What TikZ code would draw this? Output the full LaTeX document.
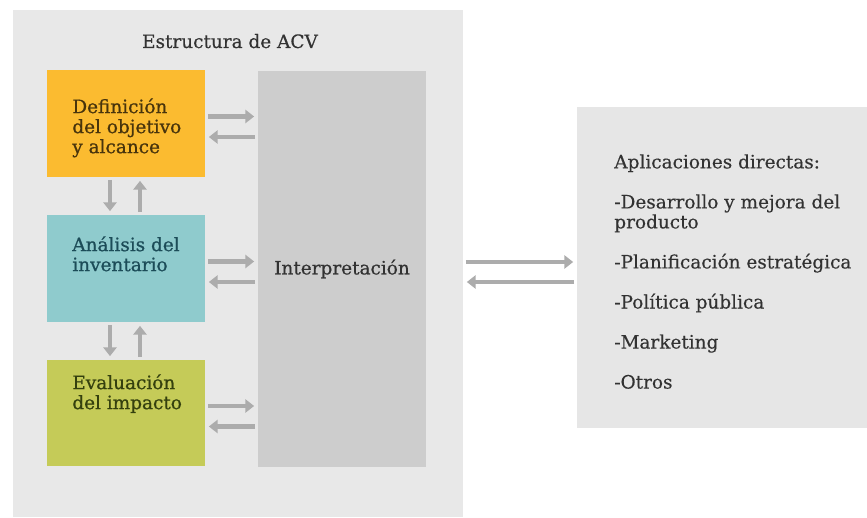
\documentclass[tikz,border=0pt]{standalone}
\usepackage{fontspec}
\setmainfont{DejaVu Serif}
\usetikzlibrary{arrows.meta,positioning,calc}
\definecolor{acvpanel}{RGB}{232,232,232}
\definecolor{acvyellow}{RGB}{251,187,48}
\definecolor{acvteal}{RGB}{143,203,205}
\definecolor{acvgreen}{RGB}{197,203,88}
\definecolor{acvinterp}{RGB}{205,205,205}
\definecolor{acvapps}{RGB}{230,230,230}
\definecolor{acvarrow}{RGB}{172,172,172}
\definecolor{acvtext}{RGB}{50,50,50}

\begin{document}
\begin{tikzpicture}[
    phase/.style={rectangle, inner sep=0pt, minimum width=3.16cm, minimum height=2.14cm},
    phasetxt/.style={anchor=north west, inner sep=0pt, align=left, font=\fontsize{10.5pt}{11.4pt}\selectfont\addfontfeature{FakeBold=0.8}},
    appstxt/.style={anchor=north west, inner sep=0pt, align=left, font=\fontsize{10.5pt}{11.4pt}\selectfont\addfontfeature{FakeBold=0.3}},
    arr/.style={draw=acvarrow, line width=2.4pt, -{Triangle[length=5pt,width=7.5pt]}, shorten <=1.5pt, shorten >=2pt},
]
    \useasboundingbox (0,0) rectangle (17.34,10.36);
    \fill[white] (0,0) rectangle (17.34,10.36);

    % ACV frame
    \node[rectangle, fill=acvpanel, inner sep=0pt, minimum width=9.0cm, minimum height=10.14cm] (acv) at (4.76,5.09) {};
    \node[anchor=base, text=acvtext, font=\fontsize{10.5pt}{11.4pt}\selectfont\addfontfeature{FakeBold=0.4}] (title) at (4.6,9.4) {Estructura de ACV};

    % phases
    \node[phase, fill=acvyellow] (def) at (2.52,7.89) {};
    \node[phase, fill=acvteal] (inv) at (2.52,4.99) {};
    \node[phase, fill=acvgreen, minimum height=2.12cm] (eval) at (2.52,2.10) {};
    \node[phasetxt, text={rgb,255:red,72;green,52;blue,12}] (deftxt) at (1.44,8.40) {Definición\\del objetivo\\y alcance};
    \node[phasetxt, text={rgb,255:red,28;green,76;blue,88}] (invtxt) at (1.44,5.64) {Análisis del\\inventario};
    \node[phasetxt, text={rgb,255:red,52;green,64;blue,14}] (evaltxt) at (1.44,2.88) {Evaluación\\del impacto};

    % interpretation
    \node[rectangle, fill=acvinterp, inner sep=0pt, minimum width=3.36cm, minimum height=7.92cm,
          text=acvtext, font=\fontsize{10.5pt}{11.4pt}\selectfont\addfontfeature{FakeBold=0.6}] (interp) at (6.84,4.98) {Interpretación};

    % applications
    \node[rectangle, fill=acvapps, inner sep=0pt, minimum width=5.8cm, minimum height=6.42cm] (apps) at (14.44,5.01) {};
    \node[appstxt, text=acvtext] (appslist) at (12.28,7.28) {Aplicaciones directas:\\[0.4cm]
        -Desarrollo y mejora del\\producto\\[0.4cm]
        -Planificación estratégica\\[0.4cm]
        -Política pública\\[0.4cm]
        -Marketing\\[0.4cm]
        -Otros};

    % phase <-> interpretation
    \foreach \ph in {def,inv,eval} {
        \draw[arr] ([yshift=0.14cm]\ph.east) -- ([yshift=0.14cm]\ph.east -| interp.west);
        \draw[arr] ([yshift=-0.27cm]\ph.east -| interp.west) -- ([yshift=-0.27cm]\ph.east);
    }

    % phase <-> phase
    \draw[arr] ([xshift=-0.32cm]def.south) -- ([xshift=-0.32cm]def.south |- inv.north);
    \draw[arr] ([xshift=0.28cm]inv.north) -- ([xshift=0.28cm]inv.north |- def.south);
    \draw[arr] ([xshift=-0.32cm]inv.south) -- ([xshift=-0.32cm]inv.south |- eval.north);
    \draw[arr] ([xshift=0.28cm]eval.north) -- ([xshift=0.28cm]eval.north |- inv.south);

    % ACV <-> applications
    \draw[arr] ([yshift=0.11cm]apps.west -| acv.east) -- ([yshift=0.11cm]apps.west);
    \draw[arr] ([yshift=-0.29cm]apps.west) -- ([yshift=-0.29cm]apps.west -| acv.east);
\end{tikzpicture}
\end{document}
